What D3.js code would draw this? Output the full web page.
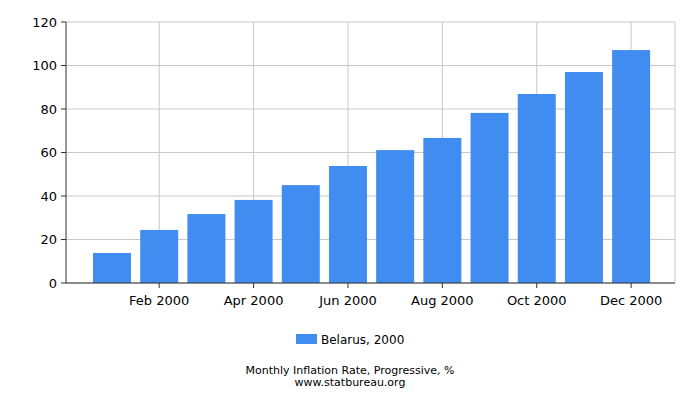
<!DOCTYPE html>
<html><head><meta charset="utf-8">
<script src="https://cdn.jsdelivr.net/npm/d3@7"></script>
<style>body{margin:0;background:#fff}text{font-family:"DejaVu Sans",sans-serif;font-size:13px;fill:#000}</style>
</head><body><svg width="700" height="400"></svg>
<script>
const months=["Jan 2000","Feb 2000","Mar 2000","Apr 2000","May 2000","Jun 2000","Jul 2000","Aug 2000","Sep 2000","Oct 2000","Nov 2000","Dec 2000"];
const values=[13.8,24.4,31.7,38.2,45.0,53.8,61.1,66.7,78.2,86.9,97.0,107.1];
const yTicks=[0,20,40,60,80,100,120];
const svg=d3.select("svg");
const L=66,R=675,T=22,B=283;
const x=d3.scaleLinear().domain([-0.975,11.93]).range([L,R]);
const y=d3.scaleLinear().domain([0,120]).range([B,T]);
const bw=38;
const g=svg.append("g");
yTicks.forEach(t=>{g.append("line").attr("x1",L).attr("x2",R).attr("y1",y(t)).attr("y2",y(t)).attr("stroke","#c8c8c8");});
months.forEach((m,i)=>{if(i%2==1){g.append("line").attr("x1",x(i)).attr("x2",x(i)).attr("y1",T).attr("y2",B).attr("stroke","#c8c8c8");}});
g.append("line").attr("x1",R).attr("x2",R).attr("y1",T).attr("y2",B).attr("stroke","#c8c8c8");
g.selectAll("rect").data(values).join("rect").attr("x",(d,i)=>x(i)-bw/2).attr("width",bw).attr("y",d=>y(d)).attr("height",d=>B-y(d)).attr("fill","#418cf0");
g.append("line").attr("x1",L).attr("x2",L).attr("y1",T).attr("y2",B).attr("stroke","#333");
g.append("line").attr("x1",L).attr("x2",R).attr("y1",B).attr("y2",B).attr("stroke","#333");
yTicks.forEach(t=>{g.append("line").attr("x1",L-5).attr("x2",L).attr("y1",y(t)).attr("y2",y(t)).attr("stroke","#333");
g.append("text").attr("x",L-9).attr("y",y(t)+4.5).attr("text-anchor","end").text(t);});
months.forEach((m,i)=>{if(i%2==1){g.append("line").attr("x1",x(i)).attr("x2",x(i)).attr("y1",B).attr("y2",B+5).attr("stroke","#333");
g.append("text").attr("x",x(i)).attr("y",B+22).attr("text-anchor","middle").text(m);}});
svg.append("rect").attr("x",296).attr("y",334).attr("width",21).attr("height",10).attr("fill","#418cf0");
svg.append("text").attr("x",321).attr("y",344).style("font-size","12px").text("Belarus, 2000");
svg.append("text").attr("x",350).attr("y",374).attr("text-anchor","middle").style("font-size","11px").text("Monthly Inflation Rate, Progressive, %");
svg.append("text").attr("x",350).attr("y",386).attr("text-anchor","middle").style("font-size","11px").text("www.statbureau.org");
</script></body></html>
